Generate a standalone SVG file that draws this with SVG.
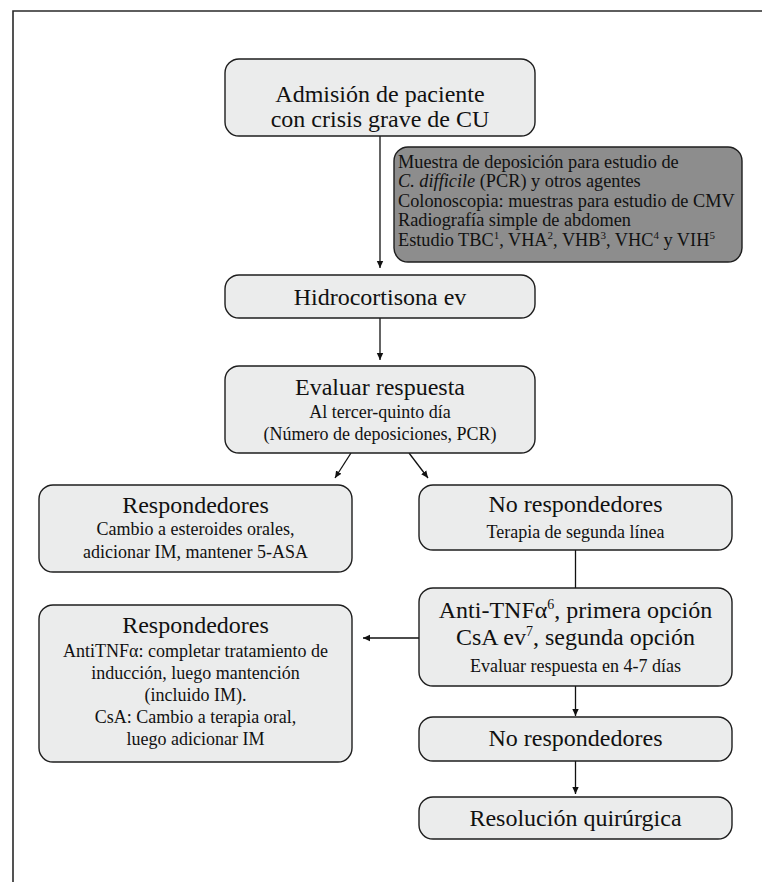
<svg xmlns="http://www.w3.org/2000/svg" width="762" height="882" viewBox="0 0 762 882">
  <style>
    .box { fill: #ebecec; stroke: #1e1e1e; stroke-width: 1.4; }
    .dark { fill: #8d8d8d; stroke: #1e1e1e; stroke-width: 1.4; }
    .t { font-family: "Liberation Serif", "Times New Roman", serif; fill: #111; }
    .h { font-size: 24px; text-anchor: middle; }
    .s { font-size: 18px; text-anchor: middle; }
    .l { font-size: 18.3px; }
    .c { stroke: #111; stroke-width: 1.3; fill: none; }
    .sup { font-size: 11px; }
    .supl { font-size: 14px; }
  </style>
  <defs>
    <marker id="arr" markerWidth="8" markerHeight="8" refX="7" refY="4" orient="auto" markerUnits="userSpaceOnUse">
      <path d="M0,0.8 L7,4 L0,7.2 Z" fill="#111"/>
    </marker>
  </defs>
  <rect width="762" height="882" fill="#ffffff"/>
  <path d="M13,882 L13,11 L762,11" fill="none" stroke="#2a2a2a" stroke-width="1.6"/>

  <g id="connectors">
    <line class="c" x1="380" y1="136" x2="380" y2="268" marker-end="url(#arr)"/>
    <line class="c" x1="380" y1="318" x2="380" y2="360" marker-end="url(#arr)"/>
    <line class="c" x1="351" y1="453" x2="335" y2="478" marker-end="url(#arr)"/>
    <line class="c" x1="409" y1="453" x2="428" y2="478" marker-end="url(#arr)"/>
    <line class="c" x1="575.5" y1="550" x2="575.5" y2="588"/>
    <line class="c" x1="419" y1="638" x2="363" y2="638" marker-end="url(#arr)"/>
    <line class="c" x1="575.5" y1="686" x2="575.5" y2="716" marker-end="url(#arr)"/>
    <line class="c" x1="575.5" y1="761" x2="575.5" y2="794" marker-end="url(#arr)"/>
  </g>

  <g id="admision">
    <rect class="box" x="225" y="59" width="310" height="77" rx="14"/>
    <text class="t h" x="380" y="102">Admisión de paciente</text>
    <text class="t h" x="380" y="127">con crisis grave de CU</text>
  </g>

  <g id="estudios">
    <rect class="dark" x="394" y="147" width="348" height="115" rx="14"/>
    <text class="t l" x="398" y="168">Muestra de deposición para estudio de</text>
    <text class="t l" x="398" y="187"><tspan font-style="italic">C. difficile</tspan> (PCR) y otros agentes</text>
    <text class="t l" x="398" y="207">Colonoscopia: muestras para estudio de CMV</text>
    <text class="t l" x="398" y="226">Radiografía simple de abdomen</text>
    <text class="t l" x="398" y="246">Estudio TBC<tspan class="sup" dy="-7">1</tspan><tspan dy="7">, VHA</tspan><tspan class="sup" dy="-7">2</tspan><tspan dy="7">, VHB</tspan><tspan class="sup" dy="-7">3</tspan><tspan dy="7">, VHC</tspan><tspan class="sup" dy="-7">4</tspan><tspan dy="7"> y VIH</tspan><tspan class="sup" dy="-7">5</tspan></text>
  </g>

  <g id="hidrocortisona">
    <rect class="box" x="225" y="275" width="310" height="43" rx="14"/>
    <text class="t h" x="380" y="305">Hidrocortisona ev</text>
  </g>

  <g id="evaluar">
    <rect class="box" x="225" y="366" width="310" height="87" rx="14"/>
    <text class="t h" x="380" y="395">Evaluar respuesta</text>
    <text class="t s" x="380" y="418">Al tercer-quinto día</text>
    <text class="t s" x="380" y="440">(Número de deposiciones, PCR)</text>
  </g>

  <g id="respondedores1">
    <rect class="box" x="39" y="485" width="313" height="87" rx="14"/>
    <text class="t h" x="195.5" y="513">Respondedores</text>
    <text class="t s" x="195.5" y="535">Cambio a esteroides orales,</text>
    <text class="t s" x="195.5" y="558">adicionar IM, mantener 5-ASA</text>
  </g>

  <g id="norespondedores1">
    <rect class="box" x="419" y="485" width="313" height="65" rx="14"/>
    <text class="t h" x="575.5" y="512">No respondedores</text>
    <text class="t s" x="575.5" y="538">Terapia de segunda línea</text>
  </g>

  <g id="antitnf">
    <rect class="box" x="419" y="588" width="313" height="98" rx="14"/>
    <text class="t h" x="575.5" y="618">Anti-TNFα<tspan class="supl" dy="-9">6</tspan><tspan dy="9">, primera opción</tspan></text>
    <text class="t h" x="575.5" y="645">CsA ev<tspan class="supl" dy="-9">7</tspan><tspan dy="9">, segunda opción</tspan></text>
    <text class="t s" x="575.5" y="672">Evaluar respuesta en 4-7 días</text>
  </g>

  <g id="respondedores2">
    <rect class="box" x="39" y="605" width="313" height="157" rx="14"/>
    <text class="t h" x="195.5" y="633">Respondedores</text>
    <text class="t s" x="195.5" y="657">AntiTNFα: completar tratamiento de</text>
    <text class="t s" x="195.5" y="679">inducción, luego mantención</text>
    <text class="t s" x="195.5" y="701">(incluido IM).</text>
    <text class="t s" x="195.5" y="723">CsA: Cambio a terapia oral,</text>
    <text class="t s" x="195.5" y="745">luego adicionar IM</text>
  </g>

  <g id="norespondedores2">
    <rect class="box" x="419" y="717" width="313" height="44" rx="14"/>
    <text class="t h" x="575.5" y="746">No respondedores</text>
  </g>

  <g id="resolucion">
    <rect class="box" x="419" y="797" width="313" height="42" rx="14"/>
    <text class="t h" x="575.5" y="826">Resolución quirúrgica</text>
  </g>
</svg>
